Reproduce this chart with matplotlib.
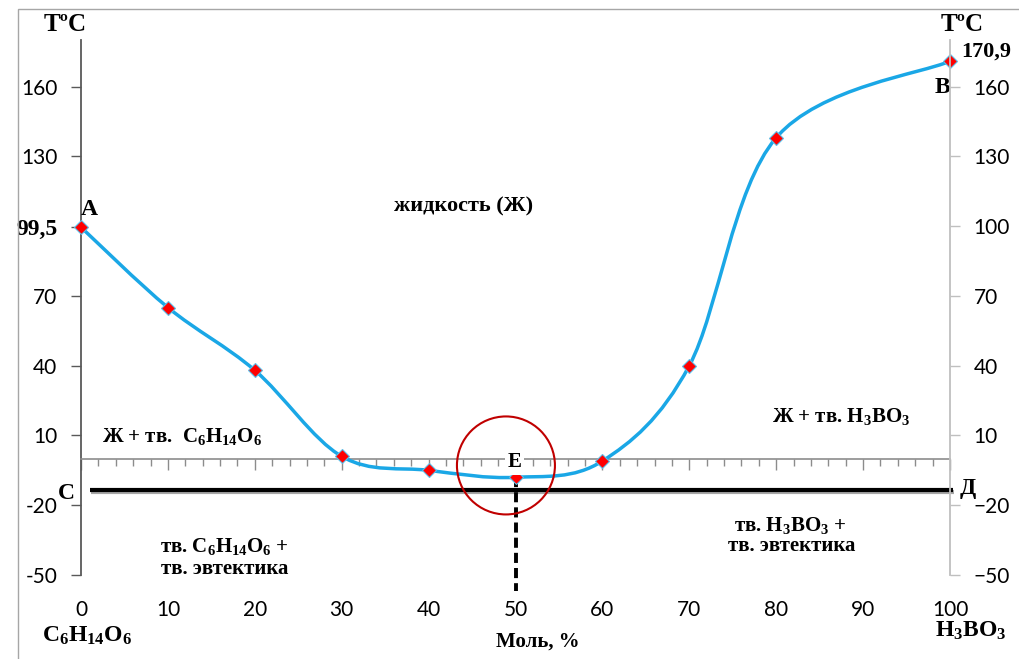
import matplotlib.pyplot as plt
from matplotlib.path import Path
from matplotlib.patches import PathPatch, Ellipse, Rectangle
from matplotlib.ticker import MultipleLocator, NullLocator
import matplotlib.patheffects as pe

plt.rcParams['mathtext.fontset'] = 'custom'
plt.rcParams['mathtext.rm'] = 'Liberation Serif'
plt.rcParams['mathtext.it'] = 'Liberation Serif:italic'
plt.rcParams['mathtext.bf'] = 'Liberation Serif:bold'

# данные диаграммы плавкости
mol = [0, 10, 20, 30, 40, 50, 60, 70, 80, 100]
temp = [99.5, 65, 38, 1, -5, -8, -1, 40, 138, 170.9]
eutectic_x = 50
eutectic_t = -13.3
left_ticks = [-50, -20, 10, 40, 70, 99.5, 130, 160]
left_labels = ['-50', '-20', '10', '40', '70', '99,5', '130', '160']
right_ticks = [-50, -20, 10, 40, 70, 100, 130, 160]
x_ticks = list(range(0, 101, 10))

SERIF = 'Liberation Serif'
SANS = 'Lato'

fig = plt.figure(figsize=(10.2, 6.59), dpi=100)
ax = fig.add_axes([81 / 1020, 1 - 575 / 659, (950 - 81) / 1020, (575 - 40) / 659])
ax.set_xlim(0, 100)
ax.set_ylim(-50, 180)

# рамка вокруг
fig.add_artist(Rectangle((18 / 1020, -0.1), 1.2, 1 - 9 / 659 + 0.1,
                         transform=fig.transFigure, fill=False, ec='#a6a6a6', lw=1))

# оси
ax.spines['top'].set_visible(False)
ax.spines['right'].set_visible(False)
ax.spines['left'].set_color('#595959')
ax.spines['left'].set_linewidth(1.3)
ax.spines['bottom'].set_position(('data', 0))
ax.spines['bottom'].set_color('#8c8c8c')
ax.spines['bottom'].set_linewidth(1.2)

ax.set_yticks(left_ticks)
ax.set_yticklabels(left_labels)
ax.tick_params(axis='y', direction='out', length=7, width=1, color='#595959',
               labelsize=15, pad=10)
for lab in ax.get_yticklabels():
    lab.set_fontfamily(SANS)
lab = ax.get_yticklabels()[5]
lab.set_fontfamily(SERIF)
lab.set_fontweight('bold')
lab.set_fontsize(17)

ax.set_xticks(x_ticks)
ax.xaxis.set_minor_locator(MultipleLocator(2))
ax.tick_params(axis='x', which='major', direction='out', length=8, width=1,
               color='#8c8c8c', labelbottom=False)
ax.tick_params(axis='x', which='minor', direction='out', length=5, width=1,
               color='#8c8c8c')

ax2 = ax.twinx()
ax2.set_ylim(-50, 180)
for s in ['left', 'top', 'bottom']:
    ax2.spines[s].set_visible(False)
ax2.spines['right'].set_color('#bfbfbf')
ax2.spines['right'].set_linewidth(1.3)
ax2.set_yticks(right_ticks)
ax2.tick_params(axis='y', direction='out', length=7, width=1, color='#bfbfbf',
                labelsize=15, pad=10)
for lab in ax2.get_yticklabels():
    lab.set_fontfamily(SANS)

sec = ax.secondary_xaxis(0)
sec.set_xticks(x_ticks)
sec.xaxis.set_minor_locator(NullLocator())
sec.spines['bottom'].set_visible(False)
sec.tick_params(length=0, labelsize=15, pad=18)
for lab in sec.get_xticklabels():
    lab.set_fontfamily(SANS)

# сглаженная линия ликвидуса (как в Excel)
pts = list(zip(mol, temp))
n = len(pts)
verts = [pts[0]]
codes = [Path.MOVETO]
for i in range(n - 1):
    p0 = pts[max(i - 1, 0)]
    p1 = pts[i]
    p2 = pts[i + 1]
    p3 = pts[min(i + 2, n - 1)]
    c1 = (p1[0] + (p2[0] - p0[0]) / 6, p1[1] + (p2[1] - p0[1]) / 6)
    c2 = (p2[0] - (p3[0] - p1[0]) / 6, p2[1] - (p3[1] - p1[1]) / 6)
    verts += [c1, c2, p2]
    codes += [Path.CURVE4] * 3
ax.add_patch(PathPatch(Path(verts, codes), fill=False, ec='#1aa7e6', lw=2.5,
                       zorder=3))
ax.plot(mol, temp, linestyle='none', marker='D', ms=7, mfc='#ff0000',
        mec='#5bbfe9', mew=0.8, zorder=4, clip_on=False)

# линия солидуса
ax.plot([1, 100.3], [eutectic_t, eutectic_t], color='black', lw=3, zorder=3,
        solid_capstyle='butt', clip_on=False,
        path_effects=[pe.SimpleLineShadow(offset=(1, -1.5), alpha=0.35), pe.Normal()])

# эвтектика
ax.plot([eutectic_x, eutectic_x], [temp[5], -57], color='black', lw=2.8,
        linestyle=(0, (2.6, 1.3)), zorder=3, clip_on=False)
ax.add_patch(Ellipse((48.9, -2.9), 98 / 8.69, 98 / 2.326, fill=False,
                     ec='#c00000', lw=1.5, zorder=5))

bold = dict(fontfamily=SERIF, fontweight='bold', clip_on=False, zorder=6)

ax.text(-1.84, 186.6, 'TºC', fontsize=18, ha='center', va='center', **bold)
ax.text(101.4, 186.6, 'TºC', fontsize=18, ha='center', va='center', **bold)
ax.text(104.2, 175.1, '170,9', fontsize=16, ha='center', va='center', **bold)
ax.text(99.1, 159.6, 'В', fontsize=17, ha='center', va='center', **bold)
ax.text(1.0, 107.1, 'А', fontsize=17, ha='center', va='center', **bold)
ax.text(44.0, 108.5, 'жидкость (Ж)', fontsize=16, ha='center', va='center', **bold)

ax.text(2.4, 7.1, r'Ж + тв.  $\mathbf{C_6H_{14}O_6}$', fontsize=15,
        ha='left', va='baseline', **bold)
ax.text(79.5, 15.6, r'Ж + тв. $\mathbf{H_3BO_3}$', fontsize=15,
        ha='left', va='baseline', **bold)
ax.text(16.5, -40.3, r'тв. $\mathbf{C_6H_{14}O_6}$ +', fontsize=15,
        ha='center', va='baseline', **bold)
ax.text(16.5, -49.4, 'тв. эвтектика', fontsize=15, ha='center', va='baseline', **bold)
ax.text(81.6, -31.0, r'тв. $\mathbf{H_3BO_3}$ +', fontsize=15,
        ha='center', va='baseline', **bold)
ax.text(81.8, -39.6, 'тв. эвтектика', fontsize=15, ha='center', va='baseline', **bold)

ax.text(-1.7, -14.8, 'С', fontsize=17, ha='center', va='center', **bold)
ax.text(102.0, -13.0, 'Д', fontsize=17, ha='center', va='center', **bold)
ax.text(49.9, -1.6, 'Е', fontsize=15, ha='center', va='center',
        bbox=dict(fc='white', ec='none', pad=2), **bold)

ax.text(0.7, -78.5, r'$\mathbf{C_6H_{14}O_6}$', fontsize=17, ha='center',
        va='baseline', **bold)
ax.text(102.4, -76.4, r'$\mathbf{H_3BO_3}$', fontsize=17, ha='center',
        va='baseline', **bold)
ax.text(52.6, -80.7, 'Моль, %', fontsize=15, ha='center', va='baseline', **bold)

plt.savefig('out.png', dpi=100)
